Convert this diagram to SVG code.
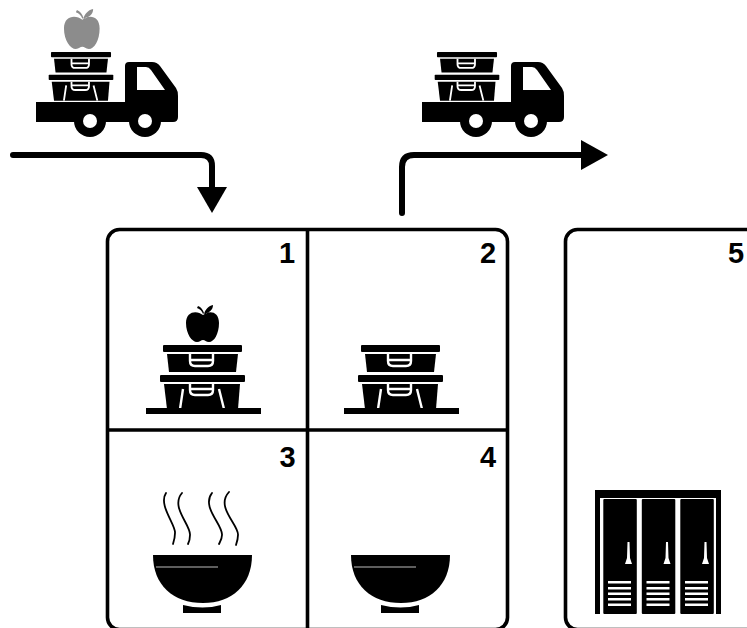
<svg xmlns="http://www.w3.org/2000/svg" width="747" height="628" viewBox="0 0 747 628">
<style>
.box{fill:none;stroke:#000;stroke-width:3.600}
.conn{fill:none;stroke:#000;stroke-width:6;stroke-linecap:round;stroke-linejoin:round}
.num{font-family:"Liberation Sans",Arial,sans-serif;font-weight:700;font-size:29px;fill:#000;text-anchor:middle}
.w{fill:none;stroke:#fff;stroke-width:2.400}
.steam{fill:none;stroke:#000;stroke-width:1.800;stroke-linecap:round}
</style>
<defs>
<path id="apple" d="M203 315C197 310 186 311 186 323C186 334 192 342 197 342C200 342 201 340 203 340C205 340 206 342 209 342C214 342 219 334 219 323C219 311 209 310 203 315ZM204 314C205 310 208 306 213 305C213 310 209 313 204 314ZM203 314C202 311 200 309 197 308L198 306C201 307 203 310 204 313Z"/>
<g id="stack">
<rect x="163" y="345" width="79" height="7" rx="1"/>
<path d="M167 354H238L236 372H169Z"/>
<path class="w" d="M190 354V361Q190 366 195 366H208Q213 366 213 361V354M190 360H213"/>
<rect x="160" y="375" width="85" height="7" rx="1"/>
<path d="M164 384H240L238 409H167Z"/>
<path class="w" d="M190 384V390Q190 395 195 395H208Q213 395 213 390V384M190 389H213"/>
<path class="w" d="M183 389L180 409M219 389L224 409"/>
</g>
<g id="truck">
<path fill-rule="evenodd" d="M36 102H125V66Q125 62 129 62H152Q157 62 160 66L176 88Q178 91 178 96V117Q178 122 173 122H36ZM137 67V90H165L151 70Q149 67 146 67Z"/>
<circle cx="90" cy="121" r="16"/><circle cx="145" cy="121" r="16"/>
<circle cx="90" cy="121" r="7" fill="#fff"/><circle cx="145" cy="121" r="7" fill="#fff"/>
</g>
<g id="bowl">
<path d="M153 555H252C252 585 232 603 203 603C173 603 153 585 153 555Z"/>
<path d="M183 605Q203 610 221 605V613H183Z"/>
<path d="M156 567H218" stroke="#bbb" stroke-width="1" fill="none"/>
</g>
<g id="door">
<rect x="603.300" y="499" width="33.500" height="115" rx="1"/>
<path fill="#fff" d="M627.500 542H629.500L630 558L632 564H625L627 558Z"/>
<g fill="#fff"><rect x="608" y="581" width="23" height="2.500"/><rect x="608" y="587" width="23" height="2.500"/><rect x="608" y="592.500" width="23" height="2.500"/><rect x="608" y="598" width="23" height="2.500"/><rect x="608" y="603.500" width="23" height="2.500"/></g>
</g>
</defs>

<g id="connectors">
<path class="conn" d="M13 155H201Q212 155 212 166V188"/>
<path d="M197 187H227L212 213Z"/>
<path class="conn" d="M402 213V167Q402 155 414 155H582"/>
<path d="M581 140L608 155L581 170Z"/>
</g>

<g id="truck-in">
<use href="#truck"/>
<use href="#stack" transform="translate(-72.900 -210.200) scale(.76)"/>
<use href="#apple" transform="translate(-136.900 -320.400) scale(1.08)" fill="#8c8c8c"/>
</g>
<g id="truck-out" transform="translate(386 0)">
<use href="#truck"/>
<use href="#stack" transform="translate(-72.900 -210.200) scale(.76)"/>
</g>

<g id="box-1-4">
<rect class="box" x="107.500" y="229.500" width="400" height="400" rx="12"/>
<path class="box" d="M307.500 229.500V628M107.500 430H507.500"/>
</g>
<g id="cell-1">
<text class="num" x="287" y="263">1</text>
<use href="#apple"/>
<use href="#stack"/>
<rect x="146" y="408" width="115" height="6"/>
</g>
<g id="cell-2">
<text class="num" x="488" y="263">2</text>
<use href="#stack" x="198"/>
<rect x="344" y="408" width="115" height="6"/>
</g>
<g id="cell-3">
<text class="num" x="287.500" y="467">3</text>
<path class="steam" d="M166 493C158 505 176 525 175 533C175 538 174 541 173 544"/>
<path class="steam" d="M182 493C170 507 191 525 190 535C190 539 189 542 188 544"/>
<path class="steam" d="M212 493C201 507 223 525 222 535C222 539 220 542 219 544"/>
<path class="steam" d="M229 492C215 507 239 525 238 535C238 539 237 542 236 545"/>
<use href="#bowl"/>
</g>
<g id="cell-4">
<text class="num" x="488" y="467">4</text>
<use href="#bowl" x="198"/>
</g>
<g id="box-5">
<rect class="box" x="565.500" y="229.500" width="220" height="400" rx="12"/>
<text class="num" x="736" y="263">5</text>
</g>
<g id="lockers">
<path d="M595 490H721V614H716V498H600V614H595Z"/>
<use href="#door"/>
<use href="#door" x="38.500"/>
<use href="#door" x="77"/>
</g>
</svg>
